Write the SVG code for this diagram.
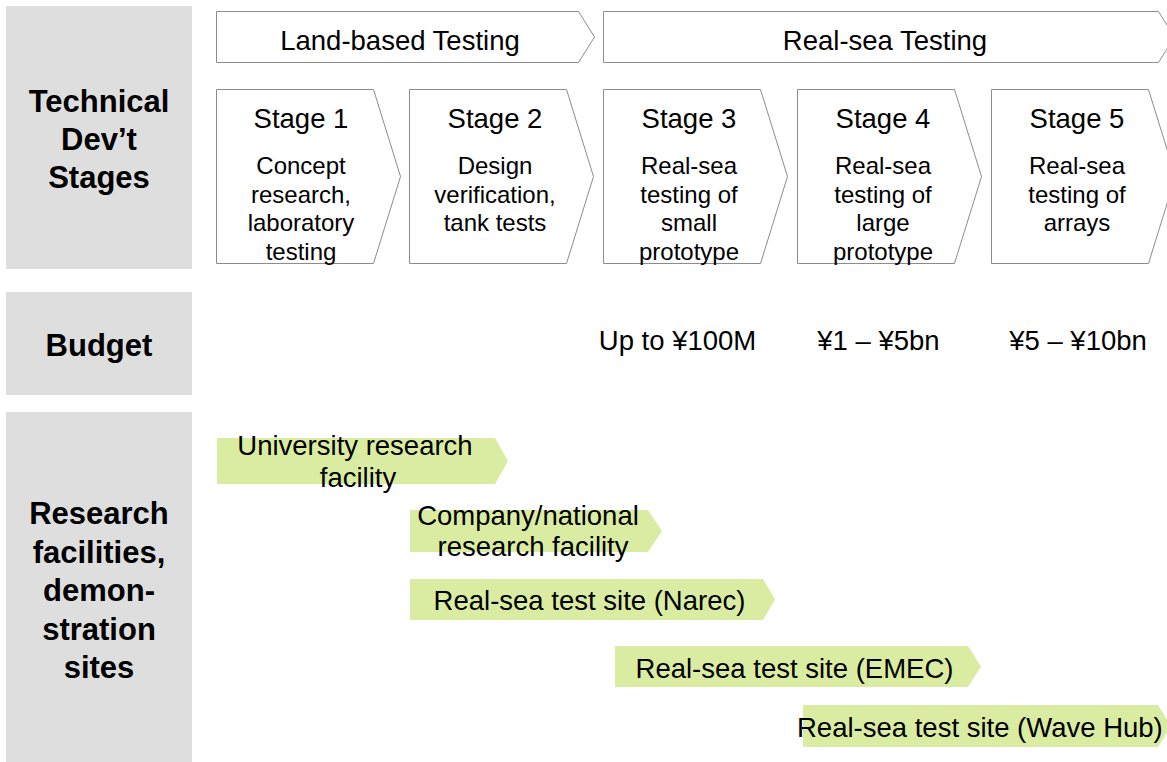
<svg xmlns="http://www.w3.org/2000/svg" width="1167" height="762" viewBox="0 0 1167 762">
<style>
text{font-family:"Liberation Sans",Arial,sans-serif;fill:#000;text-anchor:middle}
.hd{font-size:27.5px}
.st{font-size:27.5px}
.ds{font-size:24px}
.bu{font-size:27.5px}
.lb{font-size:31px;font-weight:bold}
.gb{font-size:27.5px}
.side{fill:#dedede}
.box{fill:#fff;stroke:#8c8c8c;stroke-width:1}
.bar{fill:#d9eca1}
</style>
<rect width="1167" height="762" fill="#fff"/>
<g id="label-stages">
<rect class="side" x="6" y="6" width="186" height="263"/>
<text class="lb" x="99" y="112">Technical</text>
<text class="lb" x="99" y="150">Dev’t</text>
<text class="lb" x="99" y="188">Stages</text>
</g>
<g id="label-budget">
<rect class="side" x="6" y="292" width="186" height="103"/>
<text class="lb" x="99" y="356">Budget</text>
</g>
<g id="label-facilities">
<rect class="side" x="6" y="412" width="186" height="350"/>
<text class="lb" x="99" y="524">Research</text>
<text class="lb" x="99" y="563">facilities,</text>
<text class="lb" x="99" y="601">demon-</text>
<text class="lb" x="99" y="640">stration</text>
<text class="lb" x="99" y="678">sites</text>
</g>
<g id="phase-land">
<polygon class="box" points="216.5,11.5 578.5,11.5 594.5,37 578.5,62.5 216.5,62.5"/>
<text class="hd" x="400" y="50">Land-based Testing</text>
</g>
<g id="phase-sea">
<polygon class="box" points="603.5,11.5 1158.5,11.5 1174.5,37 1158.5,62.5 603.5,62.5"/>
<text class="hd" x="885" y="50">Real-sea Testing</text>
</g>
<g id="stage1">
<polygon class="box" points="216.5,89.5 373.5,89.5 400.5,176.5 373.5,263.5 216.5,263.5"/>
<text class="st" x="301" y="128">Stage 1</text>
<text class="ds" x="301" y="174">Concept</text>
<text class="ds" x="301" y="202.5">research,</text>
<text class="ds" x="301" y="231">laboratory</text>
<text class="ds" x="301" y="259.5">testing</text>
</g>
<g id="stage2">
<polygon class="box" points="409.5,89.5 566.5,89.5 593.5,176.5 566.5,263.5 409.5,263.5"/>
<text class="st" x="495" y="128">Stage 2</text>
<text class="ds" x="495" y="174">Design</text>
<text class="ds" x="495" y="202.5">verification,</text>
<text class="ds" x="495" y="231">tank tests</text>
</g>
<g id="stage3">
<polygon class="box" points="603.5,89.5 760.5,89.5 787.5,176.5 760.5,263.5 603.5,263.5"/>
<text class="st" x="689" y="128">Stage 3</text>
<text class="ds" x="689" y="174">Real-sea</text>
<text class="ds" x="689" y="202.5">testing of</text>
<text class="ds" x="689" y="231">small</text>
<text class="ds" x="689" y="259.5">prototype</text>
</g>
<g id="stage4">
<polygon class="box" points="797.5,89.5 954.5,89.5 981.5,176.5 954.5,263.5 797.5,263.5"/>
<text class="st" x="883" y="128">Stage 4</text>
<text class="ds" x="883" y="174">Real-sea</text>
<text class="ds" x="883" y="202.5">testing of</text>
<text class="ds" x="883" y="231">large</text>
<text class="ds" x="883" y="259.5">prototype</text>
</g>
<g id="stage5">
<polygon class="box" points="991.5,89.5 1148.5,89.5 1175.5,176.5 1148.5,263.5 991.5,263.5"/>
<text class="st" x="1077" y="128">Stage 5</text>
<text class="ds" x="1077" y="174">Real-sea</text>
<text class="ds" x="1077" y="202.5">testing of</text>
<text class="ds" x="1077" y="231">arrays</text>
</g>
<g id="budgets">
<text class="bu" x="677.5" y="350">Up to ¥100M</text>
<text class="bu" x="878.5" y="350">¥1 – ¥5bn</text>
<text class="bu" x="1078" y="350">¥5 – ¥10bn</text>
</g>
<g id="bar-university">
<polygon class="bar" points="217,438 495,438 508,461 495,484 217,484"/>
<text class="gb" x="355" y="455">University research</text>
<text class="gb" x="358" y="487">facility</text>
</g>
<g id="bar-company">
<polygon class="bar" points="410,510 648,510 662,531 648,552 410,552"/>
<text class="gb" x="528" y="525">Company/national</text>
<text class="gb" x="533" y="556">research facility</text>
</g>
<g id="bar-narec">
<polygon class="bar" points="410,579 763,579 775,599.5 763,620 410,620"/>
<text class="gb" x="589.5" y="610">Real-sea test site (Narec)</text>
</g>
<g id="bar-emec">
<polygon class="bar" points="615,646 968,646 981,666.5 968,687 615,687"/>
<text class="gb" x="794.5" y="678">Real-sea test site (EMEC)</text>
</g>
<g id="bar-wavehub">
<polygon class="bar" points="803,705 1158,705 1171,726 1158,747 803,747"/>
<text class="gb" x="797" y="737" style="text-anchor:start">Real-sea test site (Wave Hub)</text>
</g>
<g id="connectors"></g>
</svg>
